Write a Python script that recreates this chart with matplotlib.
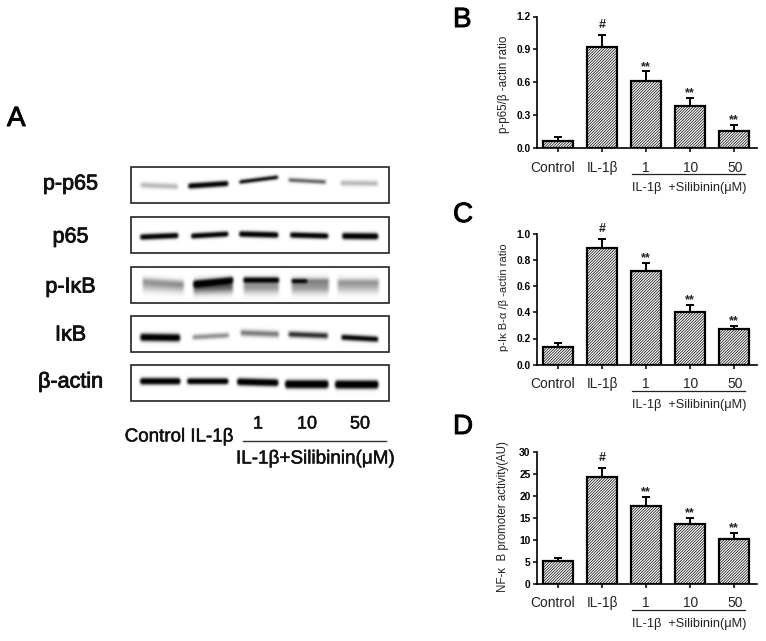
import numpy as np
import matplotlib
matplotlib.use("Agg")
import matplotlib.pyplot as plt
import matplotlib.patheffects as pe
from matplotlib.patches import Rectangle
from matplotlib.transforms import ScaledTranslation

plt.rcParams['font.family'] = ['Liberation Sans', 'DejaVu Sans']
plt.rcParams['hatch.linewidth'] = 0.5

W, H = 766, 641
categories = ["Control", "IL-1β", "1", "10", "50"]

p65_ratio = [0.06, 0.92, 0.61, 0.385, 0.158]
p65_err = [0.04, 0.11, 0.09, 0.07, 0.052]
ikb_ratio = [0.135, 0.888, 0.715, 0.40, 0.27]
ikb_err = [0.03, 0.072, 0.06, 0.055, 0.028]
nfkb_activity = [5.2, 24.3, 17.7, 13.5, 10.2]
nfkb_err = [0.7, 2.1, 2.0, 1.5, 1.4]
sig_labels = ["", "#", "**", "**", "**"]

p65_ticks = [0.0, 0.3, 0.6, 0.9, 1.2]
ikb_ticks = [0.0, 0.2, 0.4, 0.6, 0.8, 1.0]
nfkb_ticks = [0, 5, 10, 15, 20, 25, 30]

# Western blot bands: x0, x1, y-left, y-right, strength, sigma (image pixels)
blot_names = ["p-p65", "p65", "p-IκB", "IκB", "β-actin"]
blot_label_y = [184, 237, 287, 335, 382]
blot_boxes = [(166.5, 203), (216.5, 253), (266.5, 303), (316, 352), (365, 401)]
bands_pp65 = [(140, 177, 185, 186.5, .30, 2.6), (188, 227, 186, 183.5, 1.7, 2.2),
              (239, 277, 182, 177.3, 1.5, 1.6), (288, 325, 180, 182, .70, 1.9),
              (340, 377, 183, 183.5, .30, 2.6)]
bands_p65 = [(140, 177, 237, 235.5, 1.8, 2.2), (191, 227, 236, 234, 1.8, 2.1),
             (239, 277, 234, 235, 1.8, 2.3), (290, 327, 235, 236, 1.8, 2.2),
             (342, 377, 236, 236.3, 1.7, 2.6)]
bands_pikb = [(142, 183, 281, 284, .22, 3.5), (142, 183, 285, 287, .28, 6.0),
              (193, 232, 284, 280, 1.5, 2.6), (193, 232, 287, 286, .65, 6.5),
              (243, 278, 280, 280, 1.4, 2.2), (243, 278, 286, 286, .42, 7.0),
              (291, 306, 281, 281, 1.1, 2.0), (306, 328, 281, 281, .25, 2.5),
              (291, 328, 286, 286, .42, 7.0), (337, 378, 282, 282, .20, 3.0),
              (337, 378, 286, 286, .30, 6.5)]
bands_ikb = [(140, 179, 337, 337.5, 1.6, 3.2), (192, 228, 337, 335, .48, 2.4),
             (240, 278, 332.5, 334, .55, 3.0), (288, 327, 334, 335.5, .9, 2.8),
             (341, 377, 337, 339, 1.4, 2.4)]
bands_actin = [(140, 179, 381, 381, 2.0, 2.6), (187, 227, 381, 381, 1.9, 2.4),
               (237, 277, 381.5, 382.5, 2.0, 2.8), (285, 327, 384, 384, 2.2, 3.2),
               (335, 377, 384.3, 384.3, 2.2, 3.2)]
blot_bands = [bands_pp65, bands_p65, bands_pikb, bands_ikb, bands_actin]
BOX_X = (130.5, 388.5)

fig = plt.figure(figsize=(W / 100, H / 100), dpi=100, facecolor="white")
ov = fig.add_axes([0, 0, 1, 1])
ov.set_xlim(0, W)
ov.set_ylim(H, 0)
ov.axis("off")

STROKE = [pe.withStroke(linewidth=0.35, foreground="#111111")]


def blur(a, sigma_samples):
    r = int(3 * sigma_samples)
    k = np.exp(-0.5 * (np.arange(-r, r + 1) / sigma_samples) ** 2)
    k /= k.sum()
    pad = np.pad(a, r, mode="edge")
    pad = np.apply_along_axis(lambda v: np.convolve(v, k, mode="same"), 0, pad)
    pad = np.apply_along_axis(lambda v: np.convolve(v, k, mode="same"), 1, pad)
    return pad[r:-r, r:-r]


def blot_image(box, bands):
    xs = np.arange(BOX_X[0], BOX_X[1], 0.5)
    ys = np.arange(box[0], box[1], 0.5)
    X, Y = np.meshgrid(xs, ys)
    d = np.zeros_like(X)
    for x0, x1, yl, yr, strength, sigma in bands:
        t = np.clip((X - x0) / (x1 - x0), 0, 1)
        yc = yl + (yr - yl) * t
        edge = np.clip((X - x0 + 1.5) / 3, 0, 1) * np.clip((x1 - X + 1.5) / 3, 0, 1)
        d += strength * edge * np.exp(-((Y - yc) / sigma) ** 2)
    return 1 - blur(np.clip(d, 0, 1), 2.0)


for name, ly, box, bands in zip(blot_names, blot_label_y, blot_boxes, blot_bands):
    ov.imshow(blot_image(box, bands), cmap="gray", vmin=0, vmax=1, aspect="auto",
              extent=(BOX_X[0], BOX_X[1], box[1], box[0]), interpolation="bilinear", zorder=1)
    ov.add_patch(Rectangle((BOX_X[0], box[0]), BOX_X[1] - BOX_X[0], box[1] - box[0],
                           fill=False, ec="#222222", lw=1.2, zorder=2))
    ov.text(70.5, ly, name, fontsize=15.5, ha="center", va="center", color="#111111",
            path_effects=[pe.withStroke(linewidth=0.6, foreground="#111111")])
ov.set_xlim(0, W)
ov.set_ylim(H, 0)

ov.text(179, 437, "Control IL-1β", fontsize=13.5, ha="center", va="center", color="#111111", path_effects=STROKE)
for lab, x in zip(categories[2:], [258, 307, 360]):
    ov.text(x, 424, lab, fontsize=13, ha="center", va="center", color="#111111", path_effects=STROKE)
ov.plot([243, 386], [440.7, 440.7], color="#333333", lw=1.0)
ov.text(315, 459, "IL-1β+Silibinin(μM)", fontsize=13.6, ha="center", va="center", color="#111111", path_effects=STROKE)

for letter, x, y in [("A", 7, 119), ("B", 453, 20), ("C", 453, 215), ("D", 453, 427)]:
    ov.text(x, y, letter, fontsize=20, ha="left", va="center", color="black",
            path_effects=[pe.withStroke(linewidth=0.7, foreground="black")])


def panel(top, bottom, values, errs, ticks, fmt, ymax, ylabel, yl_x, yl_y, yl_size):
    x0, x1 = 537.0, 757.0
    ax = fig.add_axes([x0 / W, 1 - bottom / H, (x1 - x0) / W, (bottom - top) / H])
    ax.patch.set_alpha(0)
    pos = np.arange(len(values))
    ax.bar(pos, values, width=0.68, facecolor="white", edgecolor="black", linewidth=1.6,
           hatch="////////////", zorder=2)
    ax.errorbar(pos, values, yerr=[np.zeros(len(errs)), errs], fmt="none", ecolor="black",
                elinewidth=1.4, capsize=2.9, capthick=1.4, zorder=1)
    ax.set_xlim(-0.477, 4.523)
    ax.set_ylim(0, ymax)
    for s in ("top", "right"):
        ax.spines[s].set_visible(False)
    for s in ("left", "bottom"):
        ax.spines[s].set_linewidth(1.2)
    ax.set_yticks(ticks)
    ax.set_yticklabels([fmt.format(t) for t in ticks], fontsize=7.4, fontweight="bold")
    ax.tick_params(axis="y", length=3.2, width=1.1, pad=1.5)
    ax.set_xticks(pos)
    ax.set_xticklabels(categories, fontsize=9.9, color="#222222")
    ax.tick_params(axis="x", length=3.2, width=1.1, pad=6)
    shifts = [-5, 0, 0, 1, 1]
    for lab, dx in zip(ax.get_xticklabels(), shifts):
        lab.set_transform(lab.get_transform() + ScaledTranslation(dx / 100, 0, fig.dpi_scale_trans))
    for p, v, e, s in zip(pos, values, errs, sig_labels):
        if s:
            pad = 0.075 if s == "#" else 0.035
            ax.text(p, v + e + pad * ymax, s, fontsize=9, fontweight="bold",
                    ha="center", va="center", color="#222222")
    ov.text(yl_x, yl_y, ylabel, rotation=90, fontsize=yl_size, ha="center", va="center", color="#222222")
    ov.plot([632, 745], [bottom + 26] * 2, color="#222222", lw=0.9)
    ov.text(689, bottom + 40, "IL-1β  +Silibinin(μM)", fontsize=9.2, ha="center", va="center", color="#222222")
    return ax


panel(16.5, 148, p65_ratio, p65_err, p65_ticks, "{:.1f}", 1.2,
      "p-p65/β -actin ratio", 504, 84, 8.4)
panel(233.7, 364.7, ikb_ratio, ikb_err, ikb_ticks, "{:.1f}", 1.0,
      "p-Iκ B-α /β -actin ratio", 504, 297, 8.0)
panel(452, 583.7, nfkb_activity, nfkb_err, nfkb_ticks, "{:d}", 30,
      "NF-κ  B promoter activity(AU)", 503, 517, 8.3)

fig.savefig("out.png", dpi=100, facecolor="white")
